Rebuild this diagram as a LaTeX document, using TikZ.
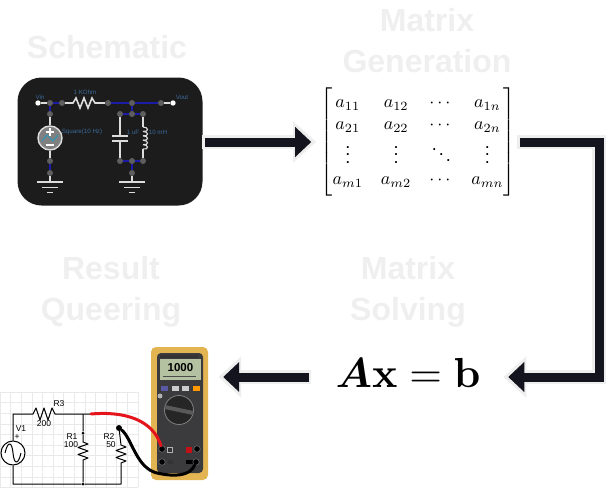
\documentclass[tikz,border=0pt]{standalone}
\usepackage{amsmath}
\usepackage[no-math]{fontspec}
\setmainfont{Liberation Sans}
\usetikzlibrary{arrows.meta}

\definecolor{titlegray}{HTML}{EFEFEF}
\definecolor{arrowink}{HTML}{14141E}
\definecolor{halogray}{HTML}{EEEEEE}
\definecolor{panelblack}{HTML}{1C1C1C}
\definecolor{pingray}{HTML}{5E5E5E}
\definecolor{busblue}{HTML}{1C1CA8}
\definecolor{labelblue}{HTML}{3A6A9A}
\definecolor{wireline}{HTML}{DCDCDC}
\definecolor{gridgray}{HTML}{E9E9E9}
\definecolor{meteryellow}{HTML}{E3B552}
\definecolor{meterdark}{HTML}{3B3B3D}
\definecolor{lcdgreen}{HTML}{B4C2A2}
\definecolor{probered}{HTML}{E5141C}

\tikzset{
	titletext/.style={font=\bfseries\fontsize{32}{41}\selectfont,text=titlegray,align=center,inner sep=0pt},
	bigarrow/.style 2 args={arrowink,line width=9pt,line join=miter,shorten <=#1pt,shorten >=#2pt,-{Triangle[width=29pt,length=16pt]},
		preaction={draw=halogray,line width=14pt,shorten <=#1pt-2.5pt,shorten >=#2pt-5pt,-{Triangle[width=40pt,length=23pt]}}},
	pinnode/.style={circle,fill=pingray,inner sep=0pt,minimum size=6pt},
	endnode/.style={circle,fill=white,inner sep=0pt,minimum size=5.4pt},
	lightwire/.style={wireline,line width=1.6pt},
	buswire/.style={busblue,line width=1.8pt},
	tinylabel/.style={font=\fontsize{6.2}{7}\selectfont,text=labelblue,inner sep=0pt},
	inkwire/.style={black,line width=1pt,line join=round},
	partlabel/.style={font=\fontsize{8.5}{9}\selectfont,inner sep=0pt},
	probewire/.style={line width=3pt,line cap=round},
	socketnode/.style={circle,fill=black,draw=meterdark!60,line width=.4pt,inner sep=0pt,minimum size=6.5pt},
}

\begin{document}
\begin{tikzpicture}[x=1pt,y=-1pt]
	\useasboundingbox (0,0) rectangle (606,490);

	% titles
	\node[titletext] (schemtitle) at (107,47) {Schematic};
	\node[titletext] (gentitle) at (427,41) {Matrix\\Generation};
	\node[titletext] (resulttitle) at (111,292) {Result\\Queering};
	\node[titletext] (solvetitle) at (408,292) {Matrix\\Solving};

	% schematic panel
	\node[fill=panelblack,rounded corners=24pt,minimum width=185pt,minimum height=128pt,inner sep=0pt] (schem) at (110,141.5) {};
	\node[endnode] (vin) at (38,103) {};
	\node[endnode] (vout) at (173,103) {};
	\node[pinnode] (pa) at (50,103) {};
	\node[pinnode] (pb) at (62,103) {};
	\node[pinnode] (pc) at (108,103) {};
	\node[pinnode] (pd) at (132,103) {};
	\node[pinnode] (pe) at (161,103) {};
	\node[pinnode] (sa) at (50,114) {};
	\node[pinnode] (sb) at (50,161) {};
	\node[pinnode] (sc) at (50,173) {};
	\node[pinnode] (ta) at (120,114) {};
	\node[pinnode] (tb) at (132,114) {};
	\node[pinnode] (tc) at (143,114) {};
	\node[pinnode] (ua) at (120,161) {};
	\node[pinnode] (ub) at (132,161) {};
	\node[pinnode] (uc) at (143,161) {};
	\node[pinnode] (uv) at (132,173) {};
	\node[circle,fill=gray,draw=wireline,line width=1.4pt,inner sep=0pt,minimum size=24pt] (src) at (50,138) {};
	\draw[lightwire] (vin) -- (pa);
	\draw[lightwire] (pb) -- (73,103) -- ++(3,-5) -- ++(4,10) -- ++(4,-10) -- ++(4,10) -- ++(4,-10) -- ++(3,5) -- (pc);
	\draw[lightwire] (pe) -- (vout);
	\draw[lightwire] (sa) -- (src);
	\draw[lightwire] (src) -- (sb);
	\draw[buswire] (pa) -- (pb);
	\draw[buswire] (pc) -- (pd);
	\draw[buswire] (pd) -- (pe);
	\draw[buswire] (pa) -- (sa);
	\draw[buswire] (sb) -- (sc);
	\draw[buswire] (pd) -- (tb);
	\draw[buswire] (ta) -- (tb);
	\draw[buswire] (tb) -- (tc);
	\draw[buswire] (ua) -- (ub);
	\draw[buswire] (ub) -- (uc);
	\draw[buswire] (ub) -- (uv);
	% source symbol
	\draw[white,line width=1.6pt] (46,132) -- (54,132) (50,128) -- (50,136);
	\draw[white,line width=1.6pt] (46,145) -- (54,145);
	\draw[labelblue!70!cyan,line width=1pt] (42,141) -- (47,135) -- (53,141) -- (58,135);
	% capacitor and coil
	\draw[lightwire] (ta) -- (120,136);
	\draw[lightwire] (120,141) -- (ua);
	\draw[wireline,line width=1.8pt] (112,136) -- (128,136);
	\draw[wireline,line width=1.8pt] (112,141) -- (128,141);
	\draw[lightwire] (tc) -- (143,127);
	\draw[lightwire] (143,149) -- (uc);
	\foreach \cy in {127,131.4,135.8,140.2,144.6}
		\draw[wireline,line width=1.1pt] (143,\cy) .. controls (149,\cy) and (149,\cy+5.4) .. (143,\cy+4.4);
	% grounds
	\foreach \gx/\gp in {50/sc,132/uv} {
		\draw[lightwire] (\gp) -- (\gx,182);
		\draw[wireline,line width=1.8pt] (\gx-13,182) -- (\gx+13,182);
		\draw[wireline,line width=1.8pt] (\gx-8,187.5) -- (\gx+8,187.5);
		\draw[wireline,line width=1.8pt] (\gx-3,192.5) -- (\gx+3,192.5);
	}
	\node[tinylabel] (vinlabel) at (40,97) {Vin};
	\node[tinylabel] (rlabel) at (85,92) {1 KOhm};
	\node[tinylabel] (voutlabel) at (182,97) {Vout};
	\node[tinylabel] (srclabel) at (82,132) {Square(10 Hz)};
	\node[tinylabel] (clabel) at (133,132) {1 uF};
	\node[tinylabel] (llabel) at (158,132) {10 mH};

	% matrix and equation
	\node[scale=1.8,inner sep=0pt] (matgen) at (418,142) {$\left[\vcenter{\hbox{\rule{0pt}{60pt}}}\begin{matrix}
		a_{11} & a_{12} & \cdots & a_{1n}\\
		a_{21} & a_{22} & \cdots & a_{2n}\\
		\vdots & \vdots & \ddots & \vdots\\
		a_{m1} & a_{m2} & \cdots & a_{mn}
	\end{matrix}\right]$};
	\node[scale=4.2,inner sep=0pt,text depth=1.82pt] (solve) at (408,377) {$\boldsymbol{A}\mathbf{x}=\mathbf{b}$};

	% lower circuit
	\foreach \gx in {0,10.6,...,138}
		\draw[gridgray,line width=.5pt] (\gx,392) -- (\gx,487);
	\foreach \gy in {392,402.6,...,488}
		\draw[gridgray,line width=.5pt] (0,\gy) -- (138,\gy);
	\coordinate (cornera) at (13,414);
	\coordinate (cornerb) at (13,484);
	\coordinate (cornerc) at (121,484);
	\coordinate (junction) at (83,414);
	\coordinate (wireend) at (91,414);
	\node[circle,draw=black,line width=1pt,fill=white,inner sep=0pt,minimum size=24pt] (vsrc) at (13,453) {};
	\node[circle,fill=black,inner sep=0pt,minimum size=3pt] (dota) at (83,433) {};
	\node[circle,fill=black,inner sep=0pt,minimum size=3pt] (dotb) at (83,484) {};
	\node[circle,fill=black,inner sep=0pt,minimum size=6pt] (blackend) at (119,428) {};
	\draw[inkwire] (vsrc) -- (cornera) -- (33,414) -- ++(3,-6) -- ++(4,12) -- ++(4,-12) -- ++(4,12) -- ++(4,-12) -- ++(3,6) -- (56,414) -- (wireend);
	\draw[inkwire] (junction) -- (dota) -- (83,442) -- ++(5,2) -- ++(-10,3.5) -- ++(10,3.5) -- ++(-10,3.5) -- ++(10,3.5) -- ++(-5,2) -- (dotb);
	\draw[inkwire] (vsrc) -- (cornerb) -- (dotb) -- (cornerc) -- (121,463) -- ++(5,-2) -- ++(-10,-3.5) -- ++(10,-3.5) -- ++(-10,-3.5) -- ++(10,-3.5) -- ++(-5,-2) -- (blackend);
	\draw[inkwire] (5,453) .. controls (8,440) and (12,442) .. (13,453) .. controls (14,464) and (18,466) .. (21,453);
	\node[partlabel] (rthree) at (59,404) {R3};
	\node[partlabel] (rthreeval) at (44,424) {200};
	\node[partlabel] (vone) at (21,429) {V1};
	\node[partlabel] (vplus) at (17,437) {+};
	\node[partlabel] (rone) at (72,437) {R1};
	\node[partlabel] (roneval) at (71,445) {100};
	\node[partlabel] (rtwo) at (109,437) {R2};
	\node[partlabel] (rtwoval) at (111,445) {50};

	% multimeter
	\node[fill=meteryellow,rounded corners=5pt,minimum width=57pt,minimum height=133pt,inner sep=0pt] (meter) at (179.5,413.5) {};
	\node[fill=meterdark,rounded corners=4pt,minimum width=46pt,minimum height=120pt,inner sep=0pt] (meterface) at (180,413) {};
	\fill[black!80] (160,355) rectangle (198,357.5);
	\node[fill=lcdgreen,minimum width=41pt,minimum height=21pt,inner sep=0pt] (lcd) at (180,369.5) {};
	\node[font=\bfseries\fontsize{11.5}{12}\selectfont,inner sep=0pt] (reading) at (180.5,367.5) {1000};
	\draw[black!70,line width=.6pt] (163,376.5) -- (196,376.5);
	\foreach \bx/\bc in {161/blue!30!gray,171.5/gray!40,182/gray!40,192.5/orange!80!yellow}
		\fill[\bc] (\bx,386) rectangle ++(7,4.5);
	\fill[gray!60] (160,396) circle (2.5);
	\node[circle,fill=black!85,draw=gray,line width=.8pt,inner sep=0pt,minimum size=29pt] (dial) at (179,410) {};
	\fill[gray!70!black,rotate around={-12:(dial.center)}] (165,408) rectangle (193,412);
	\node[fill=black!80,draw=gray!60,line width=.4pt,inner sep=0pt,minimum size=5pt] (comjack) at (170,449.5) {};
	\node[fill=probered!85!black,inner sep=0pt,minimum size=6pt] (ampjack) at (189,449.5) {};
	\node[fill=black,inner sep=0pt,minimum width=8pt,minimum height=4pt] (ohmjack) at (189.5,462) {};
	\node[fill=black!80,inner sep=0pt,minimum width=5pt,minimum height=4pt] (voltjack) at (170,462) {};
	\node[socketnode] (socka) at (162,449) {};
	\node[socketnode] (sockb) at (197,449) {};
	\node[socketnode] (sockc) at (162,462) {};
	\node[socketnode] (sockd) at (196,462) {};

	% probes
	\draw[probewire,probered] (wireend) .. controls (125,411) and (153,420) .. (socka);
	\draw[probewire,black] (blackend) .. controls (132,438) and (136,468) .. (157,473) .. controls (175,477) and (190,476) .. (sockd);

	% arrows
	\coordinate (railtop) at (599,142);
	\coordinate (railbot) at (599,377);
	\draw[bigarrow={2}{9}] (schem.east |- matgen.west) -- (matgen.west);
	\draw[bigarrow={4}{27}] (matgen.east) -- (railtop) -- (railbot) -- (solve.east);
	\draw[bigarrow={26}{15}] (solve.west) -- (solve.west -| meter.east);
\end{tikzpicture}
\end{document}
